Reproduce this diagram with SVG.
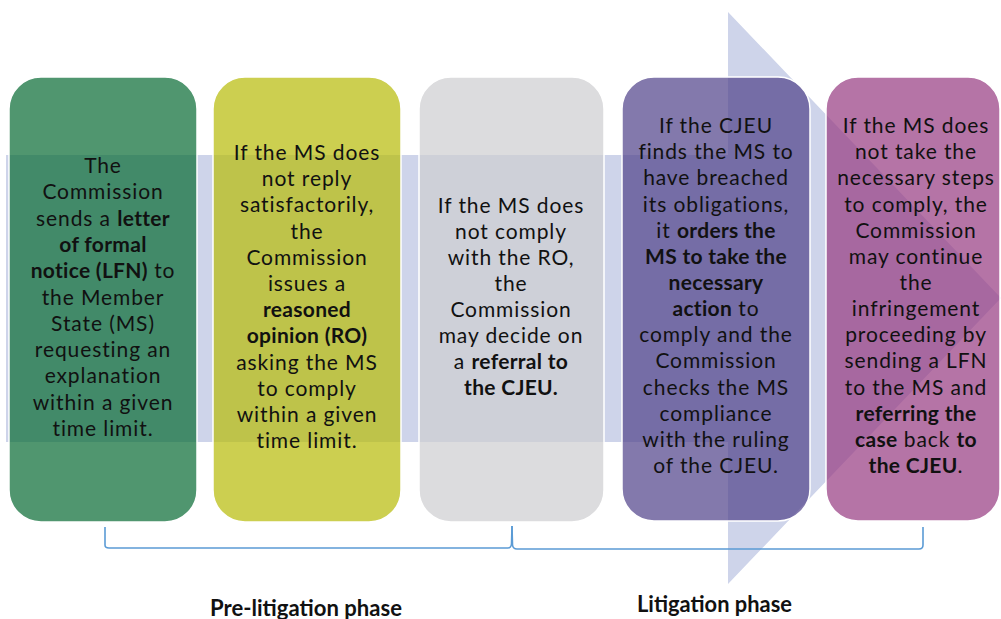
<svg xmlns="http://www.w3.org/2000/svg" width="1001" height="619" viewBox="0 0 1001 619">
<style>
.box{stroke:#ffffff;stroke-width:1.5;fill-opacity:0.72}
.t{font-family:Lato,"Liberation Sans",sans-serif;font-size:21px;letter-spacing:0.9px;fill:#111;text-anchor:middle}
.b{font-weight:bold;letter-spacing:0.3px}
.lbl{font-family:Lato,"Liberation Sans",sans-serif;font-size:22px;font-weight:bold;fill:#111;text-anchor:middle}
.br{fill:none;stroke:#5b9bd5;stroke-width:1.6}
</style>
<polygon id="arrow" points="6,155 728,155 728,12 1001,298 728,584 728,442 6,442" fill="#ced4ea"/>
<g id="node1">
<rect class="box" x="9" y="77" width="188" height="445" rx="32" fill="#0c6e38"/>
<text class="t"><tspan x="103" y="173">The</tspan><tspan x="103" y="199.3">Commission</tspan><tspan x="103" y="225.6">sends a <tspan class="b">letter</tspan></tspan><tspan x="103" y="251.9" class="b">of formal</tspan><tspan x="103" y="278.2"><tspan class="b">notice (LFN)</tspan> to</tspan><tspan x="103" y="304.5">the Member</tspan><tspan x="103" y="330.8">State (MS)</tspan><tspan x="103" y="357.1">requesting an</tspan><tspan x="103" y="383.4">explanation</tspan><tspan x="103" y="409.7">within a given</tspan><tspan x="103" y="436">time limit.</tspan></text>
</g>
<g id="node2">
<rect class="box" x="213" y="77" width="188" height="445" rx="32" fill="#b8bc0c"/>
<text class="t"><tspan x="307" y="160">If the MS does</tspan><tspan x="307" y="186.2">not reply</tspan><tspan x="307" y="212.4">satisfactorily,</tspan><tspan x="307" y="238.6">the</tspan><tspan x="307" y="264.8">Commission</tspan><tspan x="307" y="291">issues a</tspan><tspan x="307" y="317.2" class="b">reasoned</tspan><tspan x="307" y="343.4" class="b">opinion (RO)</tspan><tspan x="307" y="369.6">asking the MS</tspan><tspan x="307" y="395.8">to comply</tspan><tspan x="307" y="422">within a given</tspan><tspan x="307" y="448.2">time limit.</tspan></text>
</g>
<g id="node3">
<rect class="box" x="419" y="77" width="185" height="445" rx="32" fill="#cecfd1"/>
<text class="t"><tspan x="511" y="213">If the MS does</tspan><tspan x="511" y="239">not comply</tspan><tspan x="511" y="265">with the RO,</tspan><tspan x="511" y="291">the</tspan><tspan x="511" y="317">Commission</tspan><tspan x="511" y="343">may decide on</tspan><tspan x="511" y="369">a <tspan class="b">referral to</tspan></tspan><tspan x="511" y="395" class="b">the CJEU.</tspan></text>
</g>
<g id="node4">
<rect class="box" x="622" y="77" width="188" height="444" rx="32" fill="#53458c"/>
<text class="t"><tspan x="716" y="133">If the CJEU</tspan><tspan x="716" y="159.2">finds the MS to</tspan><tspan x="716" y="185.3">have breached</tspan><tspan x="716" y="211.5">its obligations,</tspan><tspan x="716" y="237.6">it <tspan class="b">orders the</tspan></tspan><tspan x="716" y="263.8" class="b">MS to take the</tspan><tspan x="716" y="289.9" class="b">necessary</tspan><tspan x="716" y="316"><tspan class="b">action</tspan> to</tspan><tspan x="716" y="342.2">comply and the</tspan><tspan x="716" y="368.4">Commission</tspan><tspan x="716" y="394.5">checks the MS</tspan><tspan x="716" y="420.7">compliance</tspan><tspan x="716" y="446.8">with the ruling</tspan><tspan x="716" y="473">of the CJEU.</tspan></text>
</g>
<g id="node5">
<rect class="box" x="826" y="77" width="174" height="444" rx="32" fill="#983f84"/>
<text class="t"><tspan x="916" y="133">If the MS does</tspan><tspan x="916" y="159.2">not take the</tspan><tspan x="916" y="185.3">necessary steps</tspan><tspan x="916" y="211.5">to comply, the</tspan><tspan x="916" y="237.6">Commission</tspan><tspan x="916" y="263.8">may continue</tspan><tspan x="916" y="289.9">the</tspan><tspan x="916" y="316">infringement</tspan><tspan x="916" y="342.2">proceeding by</tspan><tspan x="916" y="368.4">sending a LFN</tspan><tspan x="916" y="394.5">to the MS and</tspan><tspan x="916" y="420.7" class="b">referring the</tspan><tspan x="916" y="446.8"><tspan class="b">case</tspan> back <tspan class="b">to</tspan></tspan><tspan x="916" y="473"><tspan class="b">the CJEU</tspan>.</tspan></text>
</g>
<g id="brackets">
<path class="br" d="M105,527 L105,545 Q105,548 109,548 L508,548 Q511,548 511.5,544 L512,526"/>
<path class="br" d="M512,526 L512.5,545 Q513,549 517,549 L919,549 Q923,549 923,545 L923,527"/>
</g>
<g id="labels">
<text class="lbl" x="306" y="616" textLength="192" lengthAdjust="spacingAndGlyphs">Pre-litigation phase</text>
<text class="lbl" x="714.5" y="612" textLength="155" lengthAdjust="spacingAndGlyphs">Litigation phase</text>
</g>
</svg>
